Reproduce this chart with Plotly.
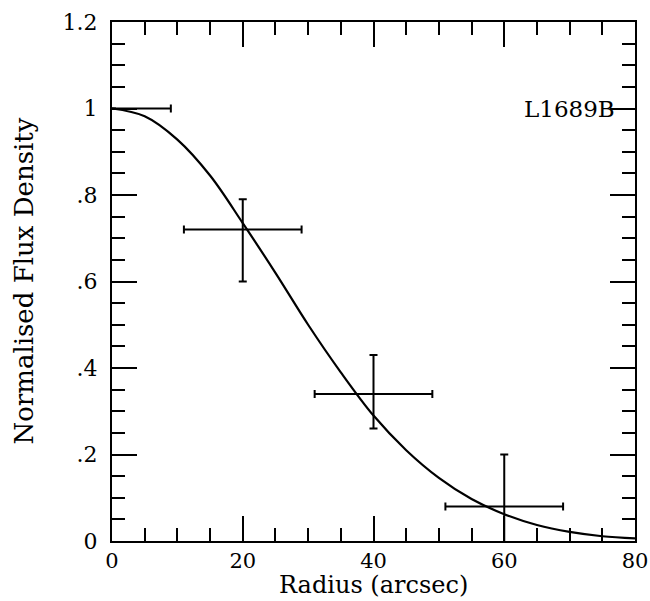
import plotly.graph_objects as go

# Model curve
curve_r = [0, 5, 10, 15, 20, 25, 30, 35, 40, 45, 50, 55, 60, 65, 70, 75, 80]
curve_flux = [1.0, 0.982, 0.928, 0.845, 0.735, 0.62, 0.50, 0.39, 0.29, 0.21,
              0.146, 0.097, 0.062, 0.037, 0.021, 0.011, 0.006]

# Data points with error bars
pt_r = [0, 20, 40, 60]
pt_flux = [1.0, 0.72, 0.34, 0.08]
pt_r_err = [9, 9, 9, 9]
pt_flux_err_plus = [None, 0.07, 0.09, 0.12]
pt_flux_err_minus = [None, 0.12, 0.08, 0.12]

x_ticks = [0, 20, 40, 60, 80]
x_ticktext = ["0", "20", "40", "60", "80"]
y_ticks = [0, 0.2, 0.4, 0.6, 0.8, 1.0, 1.2]
y_ticktext = ["0", ".2", ".4", ".6", ".8", "1", "1.2"]

label_text = "L1689B"
x_title = "Radius (arcsec)"
y_title = "Normalised Flux Density"

FONT = "DejaVu Serif"

fig = go.Figure()
fig.add_trace(go.Scatter(
    x=curve_r, y=curve_flux, mode="lines",
    line=dict(color="black", width=2.2, shape="spline", smoothing=1.0),
    hoverinfo="skip", showlegend=False,
))
fig.add_trace(go.Scatter(
    x=pt_r, y=pt_flux, mode="markers",
    marker=dict(size=1, color="rgba(0,0,0,0)"),
    error_x=dict(type="data", array=pt_r_err, symmetric=True,
                 color="black", thickness=2, width=4),
    error_y=dict(type="data", array=pt_flux_err_plus, arrayminus=pt_flux_err_minus,
                 symmetric=False, color="black", thickness=2, width=4),
    showlegend=False,
))

fig.add_annotation(
    x=77.3, y=1.0, xref="x", yref="y", text=label_text, showarrow=False,
    xanchor="right", yanchor="middle",
    font=dict(family=FONT, size=23, color="black"),
)
# Axis titles
fig.add_annotation(
    x=0.5, y=-0.1150, xref="paper", yref="paper", text=x_title, showarrow=False,
    xanchor="center", yanchor="bottom",
    font=dict(family=FONT, size=24, color="black"),
)
fig.add_annotation(
    x=-0.170, y=0.5, xref="paper", yref="paper", text=y_title, showarrow=False,
    xanchor="center", yanchor="middle", textangle=-90,
    font=dict(family=FONT, size=26, color="black"),
)

axis_common = dict(
    showline=True, linecolor="black", linewidth=2, mirror="allticks",
    ticks="inside", ticklen=25, tickwidth=2, tickcolor="black",
    showgrid=False, zeroline=False, automargin=False,
)

fig.update_xaxes(
    range=[0, 80], tickmode="array", tickvals=x_ticks, ticktext=x_ticktext,
    minor=dict(tickmode="linear", tick0=0, dtick=5, ticks="inside",
               ticklen=13, tickwidth=2, tickcolor="black"),
    ticklabelstandoff=0,
    tickfont=dict(family=FONT, size=21, color="black"),
    **axis_common,
)
fig.update_yaxes(
    range=[0, 1.2], tickmode="array", tickvals=y_ticks, ticktext=y_ticktext,
    minor=dict(tickmode="linear", tick0=0, dtick=0.05, ticks="inside",
               ticklen=13, tickwidth=2, tickcolor="black"),
    ticklabelstandoff=8,
    tickfont=dict(family=FONT, size=22, color="black"),
    **axis_common,
)

fig.update_layout(
    width=650, height=601,
    margin=dict(l=112, r=15, t=22, b=60),
    plot_bgcolor="white", paper_bgcolor="white",
    showlegend=False,
)

fig.write_html("out.html")
